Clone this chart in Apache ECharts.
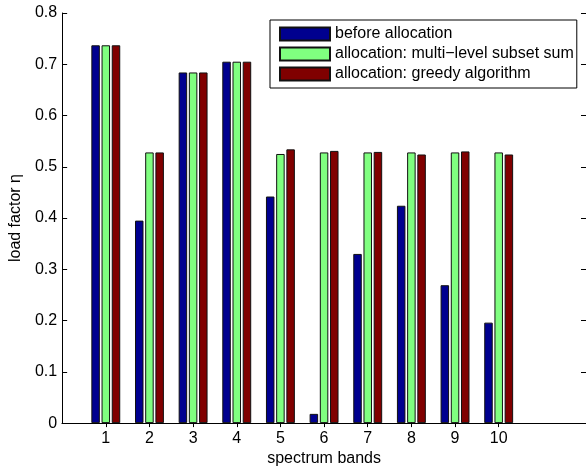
<!DOCTYPE html>
<html>
<head>
<meta charset="utf-8">
<script src="https://cdn.jsdelivr.net/npm/echarts@6/dist/echarts.min.js"></script>
<style>html,body{margin:0;padding:0;background:#fff}#c{width:586px;height:472px}</style>
</head>
<body>
<div id="c"></div>
<script>
const bands = ['1','2','3','4','5','6','7','8','9','10'];
const beforeAllocation = [0.737, 0.395, 0.684, 0.705, 0.442, 0.018, 0.330, 0.424, 0.269, 0.196];
const multiLevelSubsetSum = [0.737, 0.528, 0.684, 0.705, 0.525, 0.528, 0.528, 0.528, 0.528, 0.528];
const greedyAlgorithm = [0.737, 0.528, 0.684, 0.705, 0.534, 0.531, 0.529, 0.524, 0.530, 0.524];
const seriesNames = ['before allocation', 'allocation: multi\u2212level subset sum', 'allocation: greedy algorithm'];
const yTicks = [0, 0.1, 0.2, 0.3, 0.4, 0.5, 0.6, 0.7, 0.8];

// axis slots: 0 .. 12, bands occupy 1..10
const slots = ['0'].concat(bands, ['11', '12']);
function pad(arr) { return [null].concat(arr, [null, null]); }
const isBand = (i) => i >= 1 && i <= bands.length;

const FONT = 'Liberation Sans';
const chart = echarts.init(document.getElementById('c'), null, {renderer: 'canvas'});
const colors = ['#00008F', '#80FF80', '#800000'];
const datasets = [beforeAllocation, multiLevelSubsetSum, greedyAlgorithm];

chart.setOption({
  animation: false,
  textStyle: {fontFamily: FONT},
  grid: {left: 61, top: 13, right: -3, bottom: 44, containLabel: false},
  legend: {
    orient: 'vertical', left: 270, top: 20,
    padding: [6, 3, 6, 9],
    itemWidth: 50, itemHeight: 13, itemGap: 4,
    backgroundColor: '#fff', borderColor: '#000', borderWidth: 1, borderRadius: 0,
    icon: 'rect',
    textStyle: {fontFamily: FONT, fontSize: 16, lineHeight: 16, color: '#000'},
    data: seriesNames
  },
  xAxis: [{
    type: 'category', data: slots, boundaryGap: false,
    position: 'bottom',
    name: 'spectrum bands', nameLocation: 'middle', nameGap: 18,
    nameTextStyle: {fontFamily: FONT, fontSize: 16, color: '#000'},
    axisLine: {lineStyle: {color: '#000', width: 1}},
    axisTick: {inside: true, length: 4, interval: (i) => isBand(i), lineStyle: {color: '#000'}},
    axisLabel: {interval: (i) => isBand(i), color: '#000', fontSize: 16, margin: 7, fontFamily: FONT},
    splitLine: {show: false}
  }, {
    type: 'category', data: slots, boundaryGap: false,
    position: 'top',
    axisLine: {lineStyle: {color: '#000', width: 1}},
    axisTick: {inside: true, length: 4, interval: (i) => isBand(i), lineStyle: {color: '#000'}},
    axisLabel: {show: false},
    splitLine: {show: false}
  }],
  yAxis: [{
    type: 'value', min: yTicks[0], max: yTicks[yTicks.length - 1], interval: 0.1,
    position: 'left',
    name: 'load factor \u03b7', nameLocation: 'middle', nameGap: 38, nameRotate: 90,
    nameTextStyle: {fontFamily: FONT, fontSize: 16, color: '#000'},
    axisLine: {show: true, lineStyle: {color: '#000', width: 1}},
    axisTick: {show: true, inside: true, length: 5, lineStyle: {color: '#000'}},
    axisLabel: {color: '#000', fontSize: 16, margin: 5, fontFamily: FONT},
    splitLine: {show: false}
  }, {
    type: 'value', min: yTicks[0], max: yTicks[yTicks.length - 1], interval: 0.1,
    position: 'right',
    axisLine: {show: true, lineStyle: {color: '#000', width: 1}},
    axisTick: {show: true, inside: true, length: 5, lineStyle: {color: '#000'}},
    axisLabel: {show: false},
    splitLine: {show: false}
  }],
  series: datasets.map((d, k) => ({
    name: seriesNames[k], type: 'bar', xAxisIndex: 0, yAxisIndex: 0,
    data: pad(d), barWidth: 8.5, barGap: '20%',
    itemStyle: {color: colors[k], borderColor: '#111', borderWidth: 1}
  }))
});
</script>
</body>
</html>
